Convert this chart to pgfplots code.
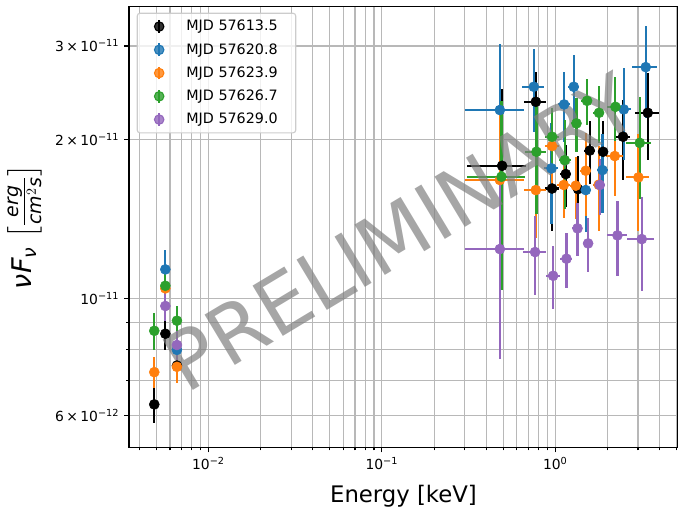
\documentclass[border=0pt]{standalone}
\usepackage{fontspec}
\setmainfont{DejaVu Sans}
\usepackage{amsmath}
\usepackage{pgfplots}
\usepackage{pgfplotstable}
\pgfplotsset{compat=1.18}
\definecolor{cblue}{HTML}{1F77B4}
\definecolor{corange}{HTML}{FF7F0E}
\definecolor{cgreen}{HTML}{2CA02C}
\definecolor{cpurple}{HTML}{9467BD}
\definecolor{gridgray}{HTML}{B8B8B8}
\definecolor{leggray}{HTML}{CCCCCC}

\pgfplotsset{errleg/.style={legend image code/.code={
  \path[draw=none,fill=none] (0pt,-5pt) rectangle (29.4pt,5pt);
  \draw[draw=#1, line width=1.5pt, solid] (11.8pt,-4.6pt) -- (11.8pt,4.6pt);
  \fill[fill=#1] (11.8pt,0pt) circle (3.4pt);
}}}

\pgfplotstableread{
x y ex ey
0.00487 6.30e-12 0 0.50e-12
0.00564 8.57e-12 0 0.60e-12
0.00658 7.46e-12 0 0.40e-12
0.4936 1.781e-11 0.185 0.71e-11
0.7722 2.353e-11 0.11 0.33e-11
0.9585 1.613e-11 0.09 0.27e-11
1.149 1.718e-11 0.09 0.23e-11
1.353 1.609e-11 0.09 0.25e-11
1.580 1.903e-11 0.11 0.26e-11
1.886 1.893e-11 0.13 0.27e-11
2.459 2.021e-11 0.25 0.35e-11
3.413 2.243e-11 0.55 0.42e-11
}\tblack
\pgfplotstableread{
x y ex ey
0.00564 1.134e-11 0 0.10e-11
0.00658 7.99e-12 0 0.50e-12
0.479 2.270e-11 0.178 0.75e-11
0.7517 2.512e-11 0.11 0.45e-11
0.9508 1.761e-11 0.09 0.38e-11
1.124 2.326e-11 0.09 0.35e-11
1.278 2.512e-11 0.09 0.37e-11
1.499 1.602e-11 0.11 0.27e-11
1.871 1.748e-11 0.13 0.30e-11
2.482 2.276e-11 0.25 0.45e-11
3.324 2.736e-11 0.56 0.54e-11
}\tblue
\pgfplotstableread{
x y ex ey
0.00487 7.25e-12 0 0.48e-12
0.00564 1.044e-11 0 0.60e-12
0.00658 7.42e-12 0 0.50e-12
0.479 1.674e-11 0.178 0.60e-11
0.7722 1.602e-11 0.11 0.30e-11
0.9585 1.941e-11 0.09 0.35e-11
1.119 1.638e-11 0.09 0.22e-11
1.313 1.633e-11 0.09 0.22e-11
1.499 1.743e-11 0.11 0.31e-11
1.781 1.640e-11 0.13 0.30e-11
2.203 1.858e-11 0.24 0.30e-11
3.017 1.693e-11 0.47 0.35e-11
}\torange
\pgfplotstableread{
x y ex ey
0.00487 8.68e-12 0 0.70e-12
0.00564 1.056e-11 0 0.60e-12
0.00658 9.07e-12 0 0.60e-12
0.4896 1.698e-11 0.18 0.66e-11
0.7789 1.893e-11 0.11 0.45e-11
0.9585 2.021e-11 0.09 0.27e-11
1.134 1.825e-11 0.09 0.35e-11
1.325 2.142e-11 0.09 0.25e-11
1.525 2.363e-11 0.11 0.24e-11
1.788 2.243e-11 0.13 0.28e-11
2.223 2.302e-11 0.24 0.32e-11
3.069 1.968e-11 0.50 0.43e-11
}\tgreen
\pgfplotstableread{
x y ex ey
0.00564 9.67e-12 0 0.60e-12
0.00658 8.16e-12 0 0.50e-12
0.479 1.239e-11 0.178 0.47e-11
0.7647 1.223e-11 0.115 0.21e-11
0.9713 1.103e-11 0.09 0.15e-11
1.160 1.188e-11 0.09 0.14e-11
1.343 1.356e-11 0.09 0.155e-11
1.546 1.270e-11 0.11 0.15e-11
1.805 1.638e-11 0.13 0.20e-11
2.283 1.315e-11 0.30 0.215e-11
3.152 1.294e-11 0.55 0.26e-11
}\tpurple

\begin{document}
\begin{tikzpicture}
\useasboundingbox (-92.88pt,-44.28pt) rectangle (395.28pt,322.2pt);
\begin{axis}[
  at={(0,0)}, anchor=south west,
  scale only axis, width=395.28pt, height=317.88pt,
  xmode=log, ymode=log,
  xmin=0.003481, xmax=5.1, ymin=5.22e-12, ymax=3.57e-11,
  xtick={0.01,0.1,1},
  xticklabels={10\textsuperscript{−2},10\textsuperscript{−1},10\textsuperscript{0}},
  minor xtick={0.004,0.005,0.006,0.007,0.008,0.009,0.02,0.03,0.04,0.05,0.06,0.07,0.08,0.09,0.2,0.3,0.4,0.5,0.6,0.7,0.8,0.9,2,3,4,5},
  ytick={6e-12,1e-11,2e-11,3e-11},
  yticklabels={6\,×\,10\textsuperscript{−12},10\textsuperscript{−11},2\,×\,10\textsuperscript{−11},3\,×\,10\textsuperscript{−11}},
  minor ytick={7e-12,8e-12,9e-12},
  grid=both,
  major grid style={color=gridgray, line width=0.8pt},
  minor grid style={color=gridgray, line width=0.8pt},
  tick align=outside, tick pos=left,
  major tick length=3.5pt, minor tick length=2pt,
  every tick/.style={black, line width=0.8pt},
  axis line style={line width=0.8pt},
  tick label style={font=\fontsize{10}{12}\selectfont},
  xlabel={Energy [keV]},
  every axis x label/.style={at={(axis description cs:0.5,0)}, anchor=center, yshift=-35.3pt, font=\fontsize{16.4}{19}\selectfont},
  ylabel={{\itshape ν\kern0.3pt F}\textsubscript{\itshape ν} $\left[\frac{\textit{erg}}{\textit{cm}^{2}\textit{s}}\right]$},
  every axis y label/.style={at={(axis description cs:-0.1900,0.5)}, rotate=90, anchor=center, font=\fontsize{19.5}{23}\selectfont},
  legend cell align=left,
  legend style={at={(0.014,0.985)}, anchor=north west, draw=leggray, line width=0.8pt, fill=white, fill opacity=0.8, text opacity=1, rounded corners=2pt, font=\fontsize{10.3}{12}\selectfont, inner xsep=4pt, inner ysep=3pt, row sep=3.6pt},
  error bars/x dir=both, error bars/x explicit,
  error bars/y dir=both, error bars/y explicit,
  error bars/error mark=none,
  error bars/error bar style={line width=1.5pt, solid},
]
\addplot[only marks, color=black, mark=*, mark size=3.6pt, errleg=black] table[x=x, y=y, x error=ex, y error=ey] {\tblack};
\addlegendentry{MJD 57613.5\hspace*{7pt}}
\addplot[only marks, color=cblue, mark=*, mark size=3.6pt, errleg=cblue] table[x=x, y=y, x error=ex, y error=ey] {\tblue};
\addlegendentry{MJD 57620.8\hspace*{7pt}}
\addplot[only marks, color=corange, mark=*, mark size=3.6pt, errleg=corange] table[x=x, y=y, x error=ex, y error=ey] {\torange};
\addlegendentry{MJD 57623.9\hspace*{7pt}}
\addplot[only marks, color=cgreen, mark=*, mark size=3.6pt, errleg=cgreen] table[x=x, y=y, x error=ex, y error=ey] {\tgreen};
\addlegendentry{MJD 57626.7\hspace*{7pt}}
\addplot[only marks, color=cpurple, mark=*, mark size=3.6pt, errleg=cpurple] table[x=x, y=y, x error=ex, y error=ey] {\tpurple};
\addlegendentry{MJD 57629.0\hspace*{7pt}}
\node[rotate=31, text=black!50, text opacity=0.7, font=\fontsize{58}{64}\selectfont] at (rel axis cs:0.4936,0.488) {PRELIMINARY};
\end{axis}
\end{tikzpicture}
\end{document}
